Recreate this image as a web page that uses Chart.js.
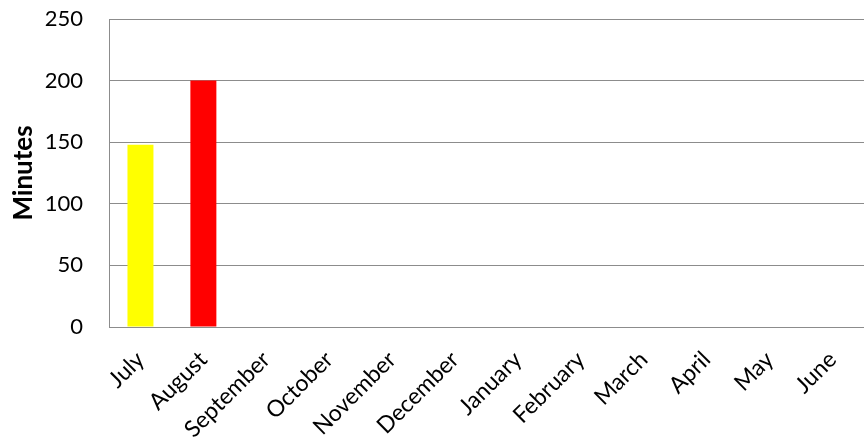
<!DOCTYPE html>
<html><head><meta charset="utf-8">
<script src="https://cdn.jsdelivr.net/npm/chart.js@4"></script>
<style>html,body{margin:0;padding:0;background:#fff}#wrap{width:864px;height:446px}</style>
</head><body><div id="wrap"><canvas id="c" width="864" height="446"></canvas></div>
<script>
const categories = ["July","August","September","October","November","December","January","February","March","April","May","June"];
const minutes = [148,200,0,0,0,0,0,0,0,0,0,0];
const barColors = ["#FFFF00","#FF0000","#FF0000","#FF0000","#FF0000","#FF0000","#FF0000","#FF0000","#FF0000","#FF0000","#FF0000","#FF0000"];
const yTicks = [0,50,100,150,200,250];
const yTitle = "Minutes";

new Chart(document.getElementById('c'), {
  type: 'bar',
  data: { labels: categories, datasets: [{ data: minutes, backgroundColor: barColors, borderWidth: 0, barPercentage: 0.413, categoryPercentage: 1 }] },
  options: {
    responsive: false, animation: false,
    layout: { padding: { top: 19, left: 8, right: 0, bottom: 0 } },
    plugins: { legend: { display: false }, tooltip: { enabled: false } },
    scales: {
      x: {
        grid: { display: false, drawTicks: false },
        border: { display: true, color: '#8c8c8c', width: 1 },
        ticks: { color: '#000', font: { family: 'Lato', size: 23 }, minRotation: 45, maxRotation: 45, padding: 19, autoSkip: false },
        afterFit: (s) => { s.height = 119; s.paddingLeft = 0; s.paddingRight = 0; }
      },
      y: {
        min: 0, max: 250,
        afterBuildTicks: (s) => { s.ticks = yTicks.map(v => ({ value: v })); },
        grid: { color: '#8c8c8c', lineWidth: 1, drawTicks: false },
        border: { display: true, color: '#8c8c8c', width: 1 },
        ticks: { color: '#000', font: { family: 'Lato', size: 22 }, padding: 26 },
        title: { display: true, text: yTitle, color: '#000', font: { family: 'Lato', size: 26, weight: 'bold' }, padding: { top: 0, bottom: 4 } },
        afterFit: (s) => { s.width = 101; s.paddingTop = 0; s.paddingBottom = 0; }
      }
    }
  }
});
</script></body></html>
